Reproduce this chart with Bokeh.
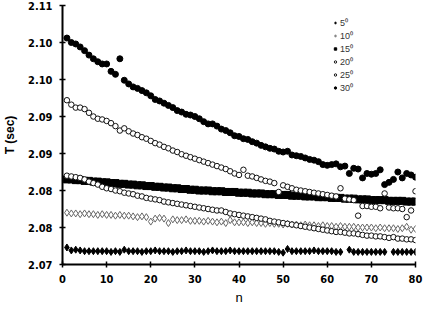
import numpy as np
from bokeh.plotting import figure
from bokeh.models import Range1d, FixedTicker, CustomJSTickFormatter, Legend, LegendItem
from bokeh.embed import file_html
from bokeh.resources import INLINE

NAN = float("nan")
n = list(range(1, 81))

s5 = [2.0723, 2.0719, 2.0720, 2.0719, 2.0718, 2.0718, 2.0718, 2.0718, 2.0718, 2.0718,
      2.0717, 2.0718, 2.0717, 2.0720, 2.0718, 2.0718, 2.0718, 2.0717, 2.0718, 2.0718,
      2.0719, 2.0718, 2.0718, 2.0718, 2.0717, 2.0718, 2.0718, 2.0719, 2.0718, 2.0718,
      2.0718, 2.0717, 2.0718, 2.0719, 2.0718, 2.0718, 2.0718, 2.0719, 2.0718, 2.0718,
      2.0718, 2.0718, 2.0718, 2.0718, 2.0718, 2.0718, 2.0718, 2.0718, 2.0717, 2.0716,
      2.0721, 2.0718, 2.0718, 2.0718, 2.0718, 2.0718, 2.0719, 2.0718, 2.0718, 2.0718,
      2.0718, 2.0717, 2.0717, NAN, 2.0720, 2.0717, 2.0717, 2.0717, 2.0717, 2.0717,
      2.0717, 2.0717, 2.0717, NAN, 2.0717, 2.0717, 2.0717, 2.0717, 2.0717, 2.0717]

s10 = [2.0770, 2.0769, 2.0769, 2.0768, 2.0769, 2.0768, 2.0768, 2.0767, 2.0768, 2.0767,
       2.0767, 2.0766, 2.0767, 2.0766, 2.0766, 2.0765, 2.0764, 2.0765, 2.0764, 2.0758,
       2.0762, 2.0763, 2.0762, 2.0756, 2.0761, 2.0760, 2.0760, 2.0761, 2.0759, 2.0759,
       2.0759, 2.0758, 2.0759, 2.0758, 2.0757, 2.0758, 2.0756, 2.0760, 2.0757, 2.0757,
       2.0757, 2.0756, 2.0757, 2.0756, 2.0756, 2.0755, 2.0756, 2.0755, 2.0755, 2.0754,
       2.0755, 2.0754, 2.0754, 2.0753, 2.0754, 2.0753, 2.0753, 2.0752, 2.0753, 2.0752,
       2.0752, 2.0751, 2.0752, 2.0751, 2.0751, 2.0751, 2.0750, 2.0750, 2.0750, 2.0750,
       2.0749, 2.0750, 2.0749, 2.0749, 2.0749, 2.0748, 2.0749, 2.0751, 2.0747, 2.0748]

s15 = [2.0815, 2.0815, 2.0814, 2.0814, 2.0813, 2.0813, 2.0812, 2.0812, 2.0811, 2.0811,
       2.0810, 2.0810, 2.0809, 2.0809, 2.0808, 2.0808, 2.0807, 2.0807, 2.0806, 2.0806,
       2.0805, 2.0805, 2.0804, 2.0804, 2.0803, 2.0803, 2.0802, 2.0802, 2.0801, 2.0801,
       2.0800, 2.0800, 2.0800, 2.0799, 2.0799, 2.0799, 2.0798, 2.0798, 2.0798, 2.0797,
       2.0797, 2.0797, 2.0796, 2.0796, 2.0796, 2.0795, 2.0795, 2.0795, 2.0794, 2.0794,
       2.0794, 2.0793, 2.0793, 2.0793, 2.0792, 2.0792, 2.0792, 2.0791, 2.0791, 2.0791,
       2.0790, 2.0790, 2.0790, 2.0789, 2.0789, 2.0789, 2.0788, 2.0788, 2.0788, 2.0787,
       2.0787, 2.0787, 2.0787, 2.0786, 2.0786, 2.0786, 2.0786, 2.0785, 2.0785, 2.0785]

s20 = [2.0820, 2.0819, 2.0818, 2.0817, 2.0815, 2.0812, 2.0810, 2.0808, 2.0805, 2.0803,
       2.0802, 2.0800, 2.0799, 2.0797, 2.0796, 2.0795, 2.0793, 2.0792, 2.0790, 2.0789,
       2.0788, 2.0787, 2.0785, 2.0784, 2.0783, 2.0782, 2.0781, 2.0780, 2.0779, 2.0778,
       2.0777, 2.0776, 2.0775, 2.0774, 2.0773, 2.0773, 2.0771, 2.0769, 2.0768, 2.0767,
       2.0766, 2.0765, 2.0764, 2.0763, 2.0762, 2.0761, 2.0759, 2.0758, 2.0757, 2.0756,
       2.0755, 2.0754, 2.0753, 2.0752, 2.0751, 2.0750, 2.0749, 2.0748, 2.0747, 2.0746,
       2.0745, 2.0744, 2.0744, 2.0743, 2.0742, 2.0742, 2.0741, 2.0740, 2.0739, 2.0739,
       2.0738, 2.0738, 2.0737, 2.0736, 2.0737, 2.0735, 2.0735, 2.0734, 2.0734, 2.0733]

s25 = [2.0922, 2.0916, 2.0912, 2.0912, 2.0910, 2.0905, 2.0900, 2.0897, 2.0896, 2.0894,
       2.0891, 2.0887, 2.0881, 2.0884, 2.0880, 2.0877, 2.0875, 2.0872, 2.0870, 2.0867,
       2.0864, 2.0862, 2.0859, 2.0857, 2.0854, 2.0852, 2.0849, 2.0847, 2.0845, 2.0843,
       2.0841, 2.0839, 2.0837, 2.0835, 2.0833, 2.0831, 2.0829, 2.0826, 2.0823, 2.0821,
       2.0828, 2.0820, 2.0819, 2.0817, 2.0815, 2.0813, 2.0812, 2.0810, 2.0798, 2.0807,
       2.0805, 2.0803, 2.0801, 2.0800, 2.0799, 2.0798, 2.0797, 2.0796, 2.0795, 2.0794,
       2.0793, 2.0792, 2.0803, 2.0789, 2.0788, 2.0787, 2.0766, 2.0779, 2.0779, 2.0778,
       2.0778, 2.0776, 2.0796, 2.0777, 2.0776, 2.0776, 2.0775, 2.0764, 2.0773, 2.0799]

s30 = [2.1006, 2.1000, 2.0998, 2.0994, 2.0989, 2.0983, 2.0978, 2.0974, 2.0971, 2.0971,
       2.0961, 2.0957, 2.0978, 2.0949, 2.0944, 2.0940, 2.0938, 2.0935, 2.0932, 2.0928,
       2.0923, 2.0921, 2.0918, 2.0915, 2.0912, 2.0908, 2.0906, 2.0903, 2.0902, 2.0900,
       2.0897, 2.0893, 2.0890, 2.0890, 2.0887, 2.0883, 2.0881, 2.0878, 2.0874, 2.0873,
       2.0870, 2.0869, 2.0866, 2.0864, 2.0861, 2.0859, 2.0857, 2.0856, 2.0853, 2.0852,
       2.0853, 2.0848, 2.0847, 2.0846, 2.0844, 2.0842, 2.0841, 2.0839, 2.0835, 2.0834,
       2.0835, 2.0836, 2.0832, 2.0833, 2.0823, 2.0830, 2.0829, 2.0817, 2.0823, 2.0822,
       2.0823, 2.0828, 2.0808, 2.0811, 2.0815, 2.0825, 2.0817, 2.0823, 2.0821, 2.0818]

series_labels = ["5\u2070", "10\u2070", "15\u2070", "20\u2070", "25\u2070", "30\u2070"]
y_ticks = [2.070, 2.075, 2.080, 2.085, 2.090, 2.095, 2.100, 2.105]
y_tick_labels = ["2.07", "2.08", "2.08", "2.09", "2.09", "2.10", "2.10", "2.11"]
x_ticks = [0, 10, 20, 30, 40, 50, 60, 70, 80]

TICK_FONT = "'Liberation Sans Narrow', 'Arial Narrow', 'DejaVu Sans Condensed', sans-serif"

p = figure(width=427, height=307, output_backend="svg", toolbar_location=None,
           x_range=Range1d(0, 80), y_range=Range1d(2.070, 2.105),
           min_border_left=52, min_border_right=12, min_border_top=5, min_border_bottom=42)
p.outline_line_color = None
p.grid.visible = False
p.background_fill_color = "white"

r15 = p.scatter(n, np.array(s15), marker="square", size=7, fill_color="black", line_color="black")
r5 = p.scatter(n, np.array(s5), marker="diamond", size=7, fill_color="black", line_color="black")
r10 = p.scatter(n, np.array(s10), marker="diamond", size=7, fill_color="white", line_color="#666666", line_width=1)
r20 = p.scatter(n, np.array(s20), marker="circle", size=5.5, fill_color="white", line_color="#111111", line_width=1)
r25 = p.scatter(n, np.array(s25), marker="circle", size=5.5, fill_color="white", line_color="#111111", line_width=1)
r30 = p.scatter(n, np.array(s30), marker="circle", size=6, fill_color="black", line_color="black")

legend = Legend(items=[LegendItem(label=lab, renderers=[r]) for lab, r in
                       zip(series_labels, [r5, r10, r15, r20, r25, r30])],
                location=(270, 170), padding=0, margin=0, spacing=0,
                glyph_width=6, glyph_height=13, label_height=13, label_standoff=2,
                label_text_font_size="9px", label_text_color="#333333",
                label_text_font="'Liberation Sans', Arial, sans-serif",
                border_line_color=None, background_fill_alpha=0)
p.add_layout(legend)

p.xaxis.ticker = FixedTicker(ticks=x_ticks)
p.yaxis.ticker = FixedTicker(ticks=y_ticks)
p.yaxis.formatter = CustomJSTickFormatter(args=dict(tvals=y_ticks, tlabs=y_tick_labels), code="""
    for (let i = 0; i < tvals.length; i++) {
        if (Math.abs(tvals[i] - tick) < 1e-9) { return tlabs[i]; }
    }
    return '';
""")

for ax in (p.xaxis[0], p.yaxis[0]):
    ax.axis_line_color = "black"
    ax.axis_line_width = 2
    ax.major_tick_line_color = "black"
    ax.major_tick_line_width = 1.5
    ax.major_tick_in = 3
    ax.major_tick_out = 3
    ax.minor_tick_line_color = None
    ax.major_label_text_font = TICK_FONT
    ax.major_label_text_font_style = "bold"
    ax.major_label_text_font_size = "11px"
    ax.major_label_text_color = "black"
    ax.axis_label_text_color = "black"

p.xaxis.major_label_standoff = 7
p.yaxis.major_label_standoff = 7
p.xaxis.axis_label = "n"
p.xaxis.axis_label_text_font = "'Liberation Sans', Arial, sans-serif"
p.xaxis.axis_label_text_font_style = "normal"
p.xaxis.axis_label_text_font_size = "13px"
p.xaxis.axis_label_standoff = 4
p.yaxis.axis_label = "T (sec)"
p.yaxis.axis_label_text_font = "'Liberation Sans', Arial, sans-serif"
p.yaxis.axis_label_text_font_style = "bold"
p.yaxis.axis_label_text_font_size = "12px"
p.yaxis.axis_label_standoff = 8

open("out.html", "w").write(file_html(p, INLINE))
